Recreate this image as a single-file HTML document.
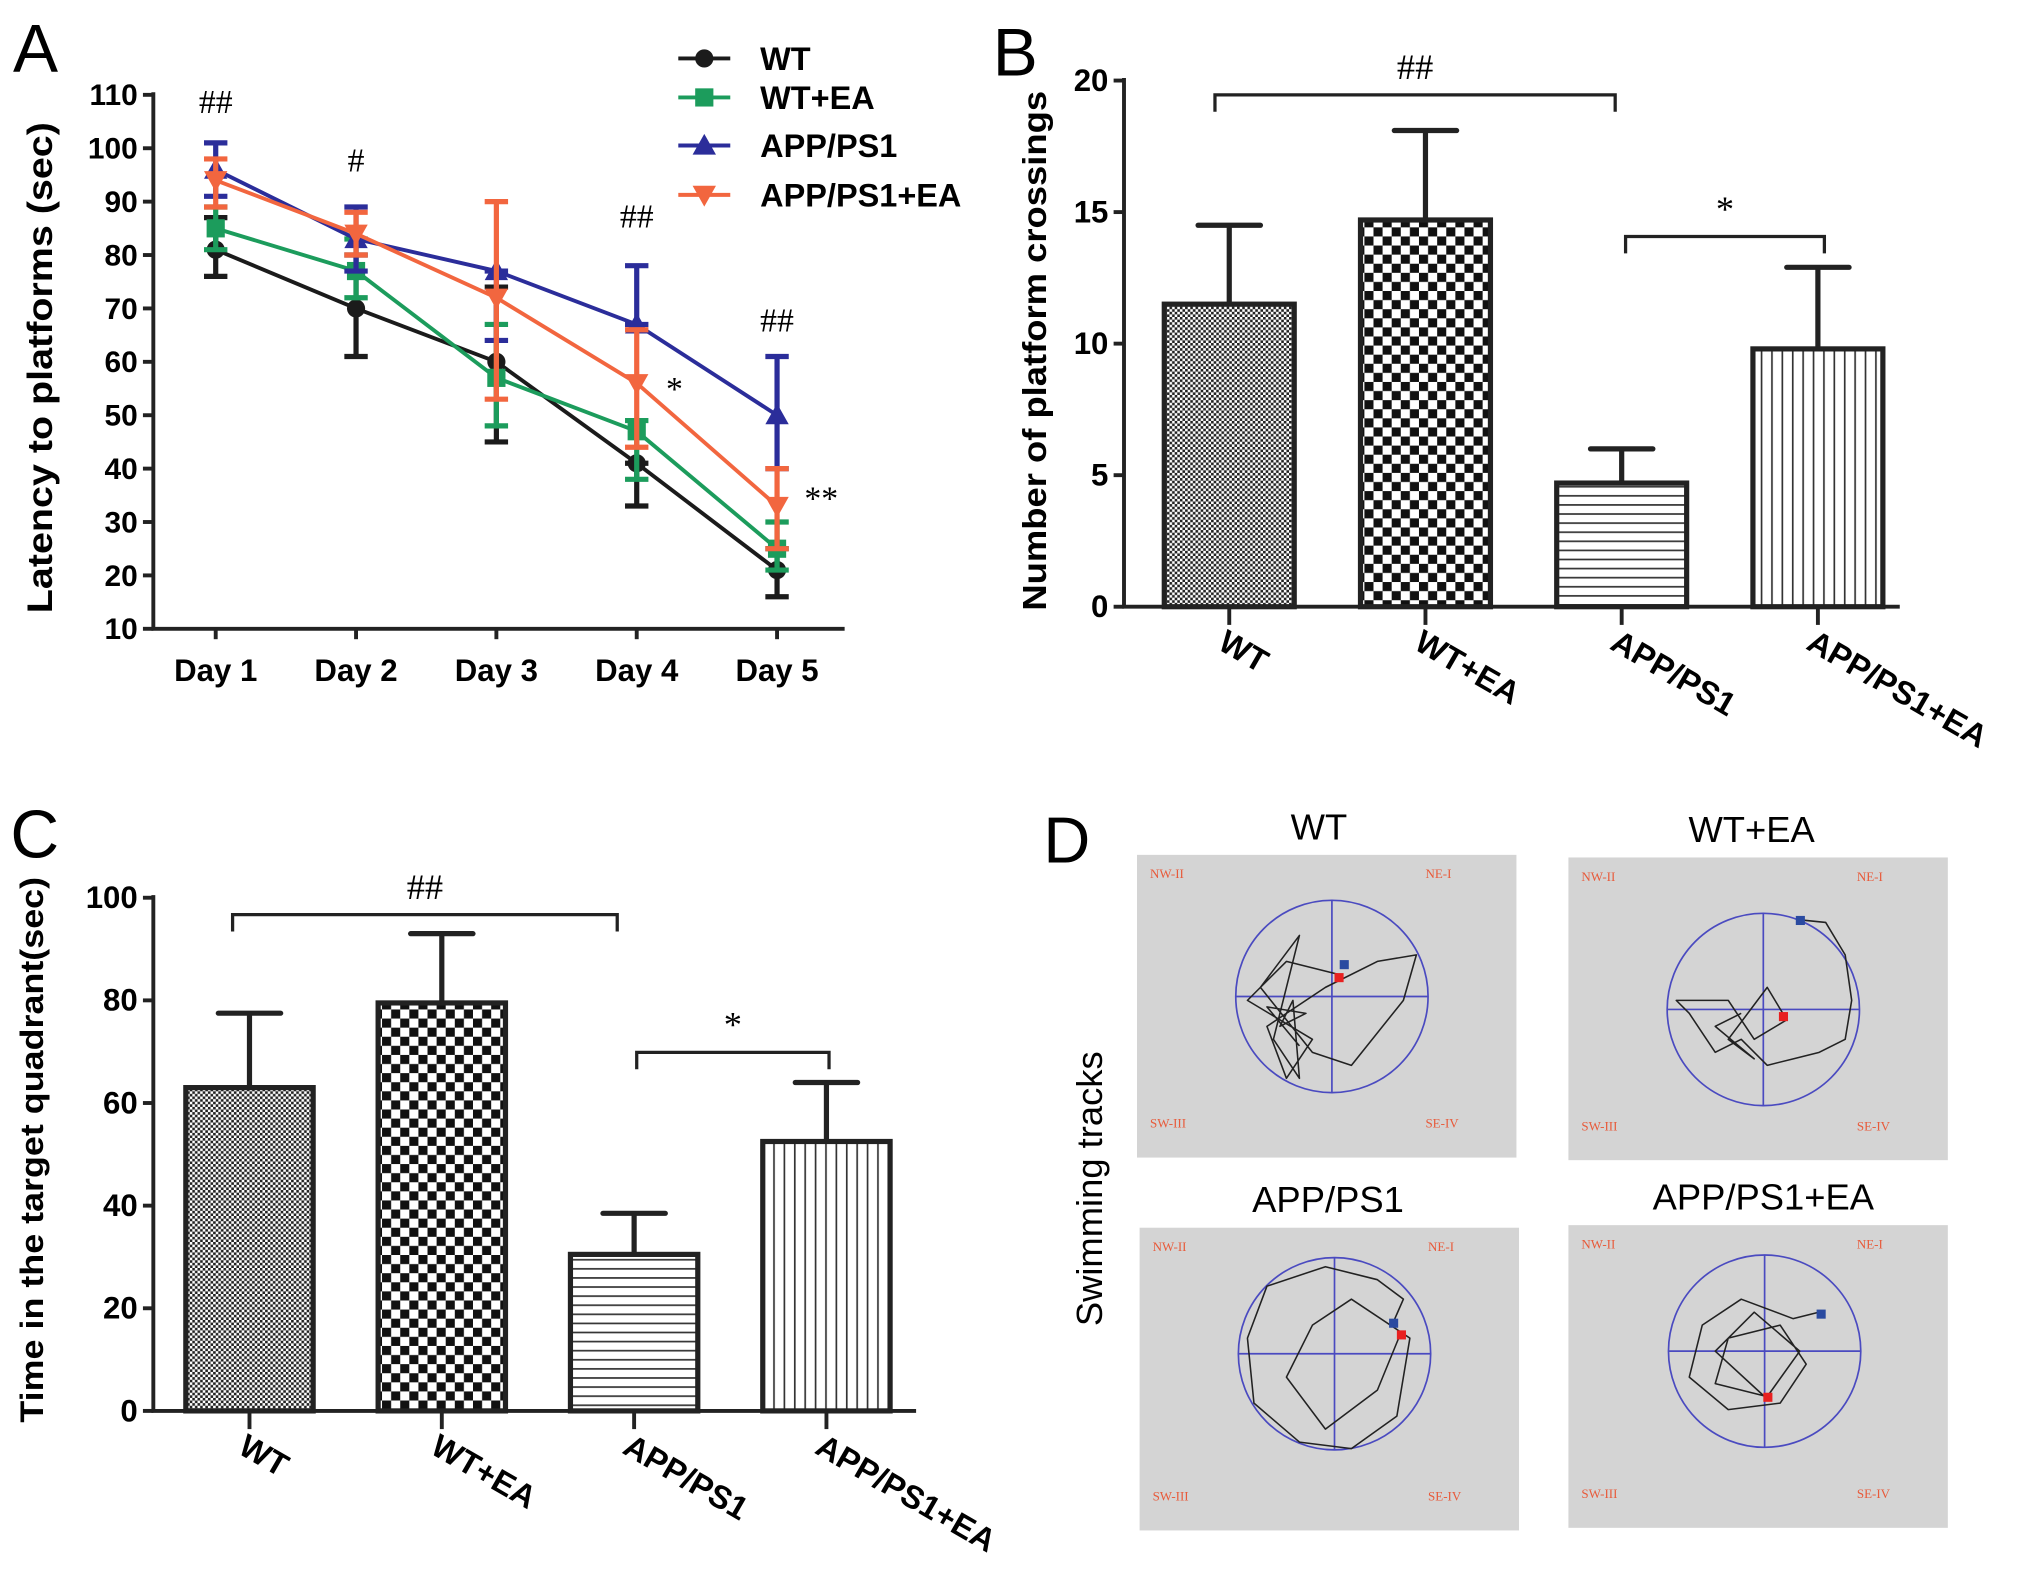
<!DOCTYPE html>
<html><head><meta charset="utf-8"><style>
html,body{margin:0;padding:0;background:#fff;}
svg{display:block;font-family:"Liberation Sans",Arial,sans-serif;}
</style></head><body>
<svg id="fig" width="2031" height="1585" viewBox="0 0 1563 1220" preserveAspectRatio="none" xmlns="http://www.w3.org/2000/svg">
<defs>
<pattern id="pWT" width="4" height="4" patternUnits="userSpaceOnUse"><rect width="4" height="4" fill="#fff"/><rect width="2" height="2" fill="#222"/><rect x="2" y="2" width="2" height="2" fill="#222"/></pattern>
<pattern id="pWTEA" width="14" height="14" patternUnits="userSpaceOnUse"><rect width="14" height="14" fill="#fff"/><rect width="7" height="7" fill="#111"/><rect x="7" y="7" width="7" height="7" fill="#111"/></pattern>
<pattern id="pAPP" width="10" height="7" patternUnits="userSpaceOnUse"><rect width="10" height="7" fill="#fff"/><rect y="3" width="10" height="1.3" fill="#333"/></pattern>
<pattern id="pAPPEA" width="8" height="10" patternUnits="userSpaceOnUse"><rect width="8" height="10" fill="#fff"/><rect x="3" width="1.3" height="10" fill="#333"/></pattern>
</defs>
<g id="A"></g>
<g id="B"></g>
<g id="C"></g>
<g id="D"></g>
</svg>
<script>
// Panel A data
const daysA = ["Day 1","Day 2","Day 3","Day 4","Day 5"];
const ticksA = [10,20,30,40,50,60,70,80,90,100,110];
const seriesNames = ["WT","WT+EA","APP/PS1","APP/PS1+EA"];
const wtMean = [81,70,60,41,21];
const wtUp = [87,80,74,41,25];
const wtLow = [76,61,45,33,16];
const wteaMean = [85,77,57,47,25];
const wteaUp = [89,83,67,49,30];
const wteaLow = [81,72,48,38,21];
const appMean = [96,83,77,67,50];
const appUp = [101,89,77,78,61];
const appLow = [91,77,64,67,40];
const appeaMean = [94,84,72,56,33];
const appeaUp = [98,88,90,66,40];
const appeaLow = [89,80,53,44,25];
// Panel B data
const groups = ["WT","WT+EA","APP/PS1","APP/PS1+EA"];
const ticksB = [0,5,10,15,20];
const crossMean = [11.5,14.7,4.7,9.8];
const crossErr = [14.5,18.1,6.0,12.9];
// Panel C data
const ticksC = [0,20,40,60,80,100];
const timeMean = [63,79.5,30.5,52.5];
const timeErr = [77.5,93,38.5,64];

const NS="http://www.w3.org/2000/svg";
function mk(parent,tag,attrs,text){const e=document.createElementNS(NS,tag);for(const k in attrs)e.setAttribute(k,attrs[k]);if(text!==undefined)e.textContent=text;parent.appendChild(e);return e;}

/* ---------- Panel A ---------- */
const A=document.getElementById('A');
const ax0=118, ax1=650, ayB=484, ayT=73;
const yA=v=>ayB-(v-10)*(ayB-ayT)/100;
const xA=i=>166+i*108;
let t=mk(A,'text',{x:10,y:55,'font-size':52},'A');
t=mk(A,'text',{transform:'translate(40,283) rotate(-90)','text-anchor':'middle','font-size':27,'font-weight':'bold',textLength:378,lengthAdjust:'spacingAndGlyphs'},'Latency to platforms (sec)');

let l=mk(A,'path',{d:`M${ax0},${ayT-2}V${ayB}H${ax1}`,fill:'none',stroke:'#222','stroke-width':3});

ticksA.forEach(v=>{mk(A,'line',{x1:ax0-8,x2:ax0,y1:yA(v),y2:yA(v),stroke:'#222','stroke-width':3});
 const tt=mk(A,'text',{x:ax0-12,y:yA(v)+8,'text-anchor':'end','font-size':23,'font-weight':'bold'},String(v));
 });
daysA.forEach((d,i)=>{mk(A,'line',{x1:xA(i),x2:xA(i),y1:ayB,y2:ayB+8,stroke:'#222','stroke-width':3});
 const tt=mk(A,'text',{x:xA(i),y:ayB+40,'text-anchor':'middle','font-size':24,'font-weight':'bold'},d);
 });
const colors=['#1b1b1b','#1c9c5c','#2b2d9a','#f2663f'];
const means=[wtMean,wteaMean,appMean,appeaMean], ups=[wtUp,wteaUp,appUp,appeaUp], lows=[wtLow,wteaLow,appLow,appeaLow];
function marker(g,k,x,y,c){
 if(k===0)return mk(g,'circle',{cx:x,cy:y,r:7,fill:c});
 if(k===1)return mk(g,'rect',{x:x-7,y:y-7,width:14,height:14,fill:c});
 if(k===2)return mk(g,'polygon',{points:`${x},${y-9} ${x-9},${y+7} ${x+9},${y+7}`,fill:c});
 return mk(g,'polygon',{points:`${x},${y+9} ${x-9},${y-7} ${x+9},${y-7}`,fill:c});}
[0,1,2,3].forEach(k=>{
 const g=mk(A,'g',{});
 means[k].forEach((m,i)=>{
  const c=colors[k];
  mk(g,'line',{x1:xA(i),x2:xA(i),y1:yA(ups[k][i]),y2:yA(lows[k][i]),stroke:c,'stroke-width':4});
  mk(g,'line',{x1:xA(i)-9,x2:xA(i)+9,y1:yA(ups[k][i]),y2:yA(ups[k][i]),stroke:c,'stroke-width':4});
  mk(g,'line',{x1:xA(i)-9,x2:xA(i)+9,y1:yA(lows[k][i]),y2:yA(lows[k][i]),stroke:c,'stroke-width':4});
 });
 const p=mk(g,'polyline',{points:means[k].map((m,i)=>xA(i)+','+yA(m)).join(' '),fill:'none',stroke:colors[k],'stroke-width':3});
 
 means[k].forEach((m,i)=>{const mm=marker(g,k,xA(i),yA(m),colors[k]);});
});
// legend
const legY=[45,75,112,150];
seriesNames.forEach((n,k)=>{const g=mk(A,'g',{});
 mk(g,'line',{x1:522,x2:562,y1:legY[k],y2:legY[k],stroke:colors[k],'stroke-width':3});marker(g,k,542,legY[k],colors[k]);
 mk(g,'text',{x:585,y:legY[k]+9,'font-size':25,'font-weight':'bold'},n);});
[['##',166,87],['#',274,132],['##',490,175],['##',598,255],['*',519,308],['**',632,392]].forEach(a=>{
 const tt=mk(A,'text',{x:a[1],y:a[2],'text-anchor':'middle','font-size':26,'font-family':'Liberation Serif,serif'},a[0]);
 });

/* ---------- bar chart helper ---------- */
const fills=['url(#pWT)','url(#pWTEA)','url(#pAPP)','url(#pAPPEA)'];
function barChart(G,o){
 const y=v=>o.yB-(v-o.min)*(o.yB-o.yT)/(o.max-o.min);
 let l=mk(G,'path',{d:`M${o.x0},${o.yT-2}V${o.yB}H${o.x1}`,fill:'none',stroke:'#222','stroke-width':3});
 
 o.ticks.forEach(v=>{mk(G,'line',{x1:o.x0-8,x2:o.x0,y1:y(v),y2:y(v),stroke:'#222','stroke-width':3});
  const tt=mk(G,'text',{x:o.x0-12,y:y(v)+8,'text-anchor':'end','font-size':24,'font-weight':'bold'},String(v));
  });
 groups.forEach((gname,i)=>{
  const cx=o.c0+i*o.step, w=o.w;
  mk(G,'line',{x1:cx,x2:cx,y1:y(o.mean[i]),y2:y(o.err[i]),stroke:'#222','stroke-width':4});
  mk(G,'line',{x1:cx-24,x2:cx+24,y1:y(o.err[i]),y2:y(o.err[i]),stroke:'#222','stroke-width':4,'stroke-linecap':'round'});
  const r=mk(G,'rect',{x:cx-w/2,y:y(o.mean[i]),width:w,height:o.yB-y(o.mean[i]),fill:fills[i],stroke:'#222','stroke-width':4});
  
  mk(G,'line',{x1:cx,x2:cx,y1:o.yB,y2:o.yB+14,stroke:'#222','stroke-width':3});
  const tt=mk(G,'text',{transform:`translate(${cx-10},${o.yB+32}) rotate(30)`,'font-size':25,'font-weight':'bold'},gname);
  
 });
 o.brackets.forEach(b=>{const g=mk(G,'g',{});
  mk(g,'path',{d:`M${b[0]},${b[2]+13}V${b[2]}H${b[1]}V${b[2]+13}`,fill:'none',stroke:'#222','stroke-width':2.5});
  mk(g,'text',{x:(b[0]+b[1])/2,y:b[2]-12,'text-anchor':'middle','font-size':28,'font-family':'Liberation Serif,serif'},b[3]);});
}
const B=document.getElementById('B');
t=mk(B,'text',{x:764,y:58,'font-size':52},'B');
t=mk(B,'text',{transform:'translate(805,270) rotate(-90)','text-anchor':'middle','font-size':26,'font-weight':'bold',textLength:400,lengthAdjust:'spacingAndGlyphs'},'Number of platform crossings');

barChart(B,{x0:865,x1:1462,yB:467,yT:62,min:0,max:20,ticks:ticksB,c0:946,step:151,w:100,mean:crossMean,err:crossErr,
 brackets:[[935,1243,73,'##'],[1251,1404,182,'*']]});
const C=document.getElementById('C');
t=mk(C,'text',{x:8,y:660,'font-size':52},'C');
t=mk(C,'text',{transform:'translate(33,885) rotate(-90)','text-anchor':'middle','font-size':25,'font-weight':'bold',textLength:420,lengthAdjust:'spacingAndGlyphs'},'Time in the target quadrant(sec)');

barChart(C,{x0:118,x1:705,yB:1086,yT:691,min:0,max:100,ticks:ticksC,c0:192,step:148,w:98,mean:timeMean,err:timeErr,
 brackets:[[179,475,704,'##'],[490,638,810,'*']]});

/* ---------- Panel D ---------- */
const D=document.getElementById('D');
t=mk(D,'text',{x:803,y:664,'font-size':50},'D');
t=mk(D,'text',{transform:'translate(848,915) rotate(-90)','text-anchor':'middle','font-size':28},'Swimming tracks');

const boxes=[[875,658,'WT',1015,[1025,767],[[1030,750],[990,740],[960,770],[1010,800],[990,830],[975,790],[1020,760],[1060,740],[1090,735],[1080,770],[1040,820],[1010,810],[970,760],[1000,720],[980,800],[1000,830],[995,770],[985,790],[1005,780],[975,775],[1000,805]],[1034,742],[1030,752]],
 [1207,660,'WT+EA',1348,[1357,777],[[1385,708],[1405,710],[1420,735],[1425,770],[1420,800],[1400,810],[1380,815],[1360,820],[1340,800],[1320,810],[1300,780],[1290,770],[1330,770],[1350,800],[1375,785],[1360,760],[1330,800],[1350,815],[1320,790],[1340,780]],[1385,708],[1372,782]],
 [877,945,'APP/PS1',1022,[1027,1042],[[1073,1016],[1080,1000],[1060,985],[1020,975],[975,990],[960,1030],[965,1080],[1000,1110],[1040,1115],[1075,1090],[1085,1030],[1040,1000],[1010,1020],[990,1060],[1020,1100],[1060,1070],[1078,1026]],[1072,1018],[1078,1027]],
 [1207,943,'APP/PS1+EA',1357,[1358,1040],[[1400,1010],[1380,1015],[1340,1000],[1310,1020],[1300,1060],[1330,1085],[1370,1080],[1390,1050],[1370,1020],[1330,1030],[1320,1065],[1360,1075],[1385,1040],[1350,1010],[1320,1040],[1358,1075]],[1401,1011],[1360,1075]]];
boxes.forEach(b=>{const g=mk(D,'g',{});
 const x=b[0],y=b[1];
 mk(g,'rect',{x:x,y:y,width:292,height:233,fill:'#d4d4d4'});
 mk(g,'text',{x:b[3],y:y-12,'text-anchor':'middle','font-size':28},b[2]);
 const cx=b[4][0],cy=b[4][1];
 mk(g,'circle',{cx:cx,cy:cy,r:74,fill:'none',stroke:'#4a4ac0','stroke-width':1.3});
 mk(g,'line',{x1:cx-74,x2:cx+74,y1:cy,y2:cy,stroke:'#4a4ac0','stroke-width':1.3});
 mk(g,'line',{x1:cx,x2:cx,y1:cy-74,y2:cy+74,stroke:'#4a4ac0','stroke-width':1.3});
 [['NW-II',x+10,y+18],['NE-I',x+222,y+18],['SW-III',x+10,y+210],['SE-IV',x+222,y+210]].forEach(q=>mk(g,'text',{x:q[1],y:q[2],'font-size':10,fill:'#e85a3a','font-family':'Liberation Serif,serif'},q[0]));
 mk(g,'path',{d:'M'+b[5].map(p=>p.join(',')).join(' L'),fill:'none',stroke:'#222','stroke-width':1.2,'stroke-linejoin':'round'});
 mk(g,'rect',{x:b[6][0]-3,y:b[6][1]-3,width:7,height:7,fill:'#2a4aa0'});
 mk(g,'rect',{x:b[7][0]-3,y:b[7][1]-3,width:7,height:7,fill:'#e82020'});
});
</script>
</body></html>
